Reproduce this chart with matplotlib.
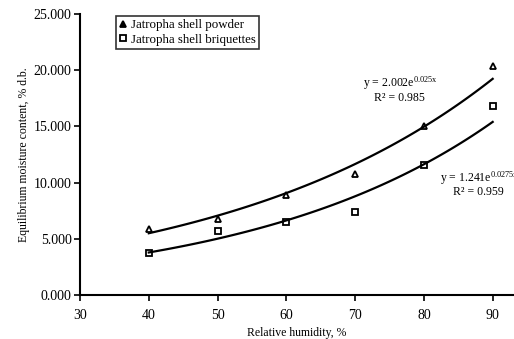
import numpy as np
import matplotlib
matplotlib.use('Agg')
import matplotlib.pyplot as plt

plt.rcParams['font.family'] = ['Liberation Serif', 'DejaVu Serif']
plt.rcParams['mathtext.fontset'] = 'custom'
plt.rcParams['mathtext.rm'] = 'Liberation Serif'
plt.rcParams['mathtext.it'] = 'Liberation Serif'

rh = [40, 50, 60, 70, 80, 90]
powder = [5.9, 6.8, 8.9, 10.8, 15.0, 20.4]
briquettes = [3.7, 5.7, 6.5, 7.4, 11.6, 16.8]

y_ticks = [0, 5, 10, 15, 20, 25]
x_ticks = [30, 40, 50, 60, 70, 80, 90]


def exp_trend(x, y):
	# same as an Excel exponential trendline: linear fit on ln(y)
	b, ln_a = np.polyfit(x, np.log(y), 1)
	xs = np.linspace(min(x), max(x), 100)
	return xs, np.exp(ln_a) * np.exp(b * xs)


fig = plt.figure(figsize=(5.14, 3.39), dpi=100)
ax = fig.add_axes([0.1556, 0.1298, 0.8444, 0.8289])

xs, ys = exp_trend(rh, powder)
ax.plot(xs, ys, color='black', lw=1.6)
xs, ys = exp_trend(rh, briquettes)
ax.plot(xs, ys, color='black', lw=1.6)

ax.plot(rh, powder, linestyle='none', marker='^', ms=4, mfc='none', mec='black', mew=1.3,
	label='Jatropha shell powder')
ax.plot(rh, briquettes, linestyle='none', marker='s', ms=3.8, mfc='none', mec='black', mew=1.3,
	label='Jatropha shell briquettes')

ax.set_xlim(30, 93.1)
ax.set_ylim(0, 25)
ax.set_xticks(x_ticks)
ax.set_yticks(y_ticks)
ax.set_yticklabels(['%.3f' % v for v in y_ticks])
ax.tick_params(direction='out', length=4, width=1.2, labelsize=10, pad=2, color='black')
ax.tick_params(axis='x', pad=6)

for side in ['top', 'right']:
	ax.spines[side].set_visible(False)
for side in ['left', 'bottom']:
	ax.spines[side].set_linewidth(1.5)

ax.set_xlabel('Relative humidity, %', fontsize=8.5, labelpad=4)
ax.set_ylabel('Equilibrium moisture content, % d.b.', fontsize=8.5, labelpad=3)

leg = ax.legend(loc='upper left', bbox_to_anchor=(0.078, 1.0), fontsize=9.3, frameon=True,
	fancybox=False, edgecolor='black', handlelength=0.6, handletextpad=0.3,
	borderpad=0.25, labelspacing=0.2, borderaxespad=0.15)
leg.get_frame().set_linewidth(1.2)
for h in leg.legend_handles:
	if h.get_marker() == '^':
		h.set_markerfacecolor('black')

fig.text(0.778, 0.737, 'y = 2.002e$^{\\mathrm{0.025x}}$\nR² = 0.985',
	ha='center', va='center', fontsize=8.5, linespacing=1.05)
fig.text(0.857, 0.475, 'y = 1.241e$^{\\mathrm{0.0275x}}$', ha='left', va='center', fontsize=8.5)
fig.text(0.93, 0.434, 'R² = 0.959', ha='center', va='center', fontsize=8.5)

fig.savefig('out.png', dpi=100)
